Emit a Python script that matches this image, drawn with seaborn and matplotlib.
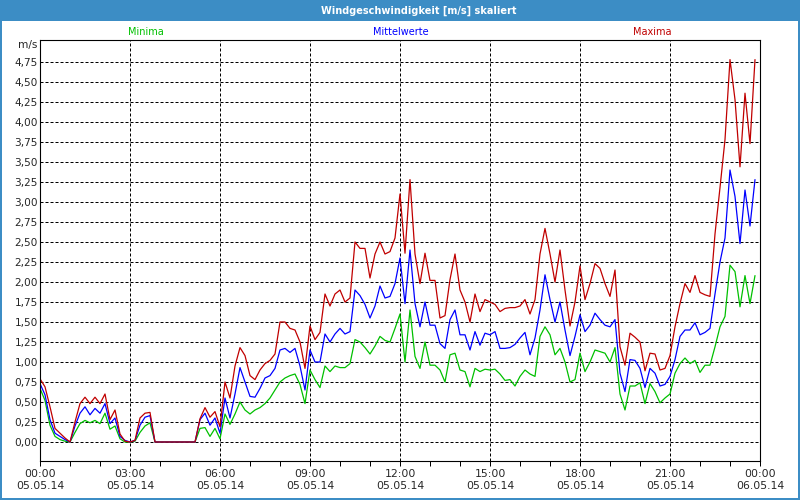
import matplotlib
matplotlib.use("Agg")
import matplotlib.pyplot as plt
import matplotlib.dates as mdates
from matplotlib.patches import Rectangle
from matplotlib.ticker import FixedLocator, FuncFormatter
import pandas as pd
import seaborn as sns

# 10-Minuten-Werte 05.05.14 00:00 .. 23:50, in m/s
minima = [0.67, 0.52, 0.21, 0.07, 0.03, 0.01, 0.00, 0.12, 0.23, 0.27, 0.24, 0.27,
          0.23, 0.36, 0.16, 0.20, 0.04, 0.00, 0.00, 0.01, 0.12, 0.20, 0.24, 0.00,
          0.00, 0.00, 0.00, 0.00, 0.00, 0.00, 0.00, 0.00, 0.17, 0.18, 0.07, 0.17,
          0.04, 0.35, 0.22, 0.35, 0.50, 0.40, 0.35, 0.40, 0.43, 0.48, 0.55, 0.65,
          0.75, 0.80, 0.83, 0.85, 0.72, 0.48, 0.90, 0.78, 0.68, 0.95, 0.88, 0.95,
          0.93, 0.93, 0.98, 1.28, 1.25, 1.18, 1.10, 1.20, 1.32, 1.27, 1.25, 1.42,
          1.60, 1.00, 1.65, 1.07, 0.92, 1.25, 0.96, 0.96, 0.90, 0.75, 1.09, 1.11,
          0.90, 0.88, 0.69, 0.92, 0.88, 0.91, 0.90, 0.91, 0.85, 0.77, 0.78, 0.70,
          0.82, 0.90, 0.85, 0.82, 1.32, 1.44, 1.34, 1.09, 1.17, 1.00, 0.75, 0.78,
          1.11, 0.88, 1.00, 1.15, 1.13, 1.11, 1.00, 1.18, 0.60, 0.40, 0.70, 0.70,
          0.74, 0.48, 0.73, 0.63, 0.49, 0.55, 0.60, 0.86, 0.98, 1.05, 0.98, 1.02,
          0.87, 0.96, 0.96, 1.19, 1.44, 1.57, 2.21, 2.13, 1.69, 2.08, 1.73, 2.08]

mittelwerte = [0.73, 0.59, 0.28, 0.11, 0.07, 0.03, 0.00, 0.20, 0.36, 0.44, 0.34, 0.42,
               0.36, 0.48, 0.23, 0.30, 0.07, 0.02, 0.00, 0.02, 0.21, 0.31, 0.33, 0.00,
               0.00, 0.00, 0.00, 0.00, 0.00, 0.00, 0.00, 0.00, 0.28, 0.36, 0.21, 0.30,
               0.11, 0.55, 0.30, 0.60, 0.93, 0.75, 0.57, 0.56, 0.67, 0.80, 0.83, 0.92,
               1.15, 1.17, 1.12, 1.17, 0.95, 0.65, 1.15, 1.00, 1.00, 1.35, 1.25, 1.35,
               1.42, 1.35, 1.38, 1.90, 1.83, 1.72, 1.55, 1.70, 1.95, 1.80, 1.82, 1.98,
               2.30, 1.73, 2.40, 1.73, 1.44, 1.75, 1.46, 1.46, 1.23, 1.17, 1.53, 1.65,
               1.34, 1.34, 1.15, 1.38, 1.21, 1.36, 1.34, 1.38, 1.17, 1.17, 1.18, 1.22,
               1.30, 1.37, 1.09, 1.30, 1.65, 2.09, 1.78, 1.50, 1.75, 1.40, 1.08, 1.32,
               1.59, 1.38, 1.46, 1.61, 1.53, 1.46, 1.44, 1.53, 0.86, 0.63, 1.03, 1.02,
               0.92, 0.68, 0.92, 0.86, 0.70, 0.72, 0.82, 1.03, 1.32, 1.40, 1.40, 1.49,
               1.34, 1.37, 1.42, 1.85, 2.25, 2.55, 3.40, 3.07, 2.48, 3.15, 2.70, 3.28]

maxima = [0.79, 0.69, 0.44, 0.17, 0.11, 0.05, 0.00, 0.25, 0.48, 0.56, 0.48, 0.56,
          0.48, 0.60, 0.28, 0.40, 0.10, 0.01, 0.00, 0.02, 0.30, 0.36, 0.37, 0.00,
          0.00, 0.00, 0.00, 0.00, 0.00, 0.00, 0.00, 0.00, 0.29, 0.43, 0.31, 0.38,
          0.19, 0.75, 0.55, 0.95, 1.18, 1.08, 0.83, 0.78, 0.90, 0.98, 1.02, 1.10,
          1.50, 1.50, 1.42, 1.40, 1.25, 0.92, 1.45, 1.28, 1.37, 1.85, 1.70, 1.85,
          1.90, 1.75, 1.80, 2.50, 2.42, 2.42, 2.05, 2.35, 2.50, 2.35, 2.38, 2.55,
          3.10, 2.36, 3.28, 2.35, 1.98, 2.36, 2.02, 2.02, 1.55, 1.58, 2.03, 2.35,
          1.90, 1.75, 1.50, 1.85, 1.63, 1.78, 1.75, 1.72, 1.63, 1.67, 1.68, 1.68,
          1.70, 1.78, 1.60, 1.78, 2.35, 2.67, 2.35, 2.00, 2.40, 1.90, 1.45, 1.75,
          2.20, 1.78, 1.98, 2.23, 2.17, 1.98, 1.82, 2.15, 1.19, 0.96, 1.36, 1.31,
          1.25, 0.89, 1.11, 1.10, 0.90, 0.92, 1.08, 1.44, 1.73, 1.98, 1.87, 2.08,
          1.87, 1.84, 1.82, 2.60, 3.18, 3.78, 4.78, 4.28, 3.44, 4.36, 3.73, 4.78]

serien = ["Minima", "Mittelwerte", "Maxima"]
farben = {"Minima": "#00c000", "Mittelwerte": "#0000ff", "Maxima": "#c00000"}
y_ticks = [0.0, 0.25, 0.5, 0.75, 1.0, 1.25, 1.5, 1.75, 2.0, 2.25,
           2.5, 2.75, 3.0, 3.25, 3.5, 3.75, 4.0, 4.25, 4.5, 4.75]

zeit = pd.date_range("2014-05-05 00:00", periods=len(maxima), freq="10min")
df = pd.DataFrame({"zeit": zeit, "Minima": minima,
                   "Mittelwerte": mittelwerte, "Maxima": maxima})
df = df.melt(id_vars="zeit", var_name="serie", value_name="wert")

sns.set_style("white")
plt.rcParams["font.family"] = ["DejaVu Sans"]

W, H = 800, 500
rahmen = "#3c8dc5"
fig = plt.figure(figsize=(8, 5), dpi=100, facecolor=rahmen)
fig.add_artist(Rectangle((2 / W, 2 / H), 796 / W, 477 / H, transform=fig.transFigure,
                         facecolor="white", edgecolor="none", zorder=0))
fig.text(419 / W, 1 - 10.5 / H, "Windgeschwindigkeit [m/s] skaliert", color="white",
         fontsize=7, fontweight="bold", ha="center", va="center")

ax = fig.add_axes([40 / W, 39 / H, 720 / W, 421 / H])
ax.set_facecolor("white")
sns.lineplot(data=df, x="zeit", y="wert", hue="serie", hue_order=serien,
             palette=farben, linewidth=0.9, legend=False, ax=ax)

ax.set_xlim(pd.Timestamp("2014-05-05 00:00"), pd.Timestamp("2014-05-06 00:00"))
ax.set_ylim(-0.2375, 5.025)
ax.set_xlabel("")
ax.set_ylabel("")

ax.xaxis.set_major_locator(mdates.HourLocator(byhour=range(0, 24, 3)))
ax.xaxis.set_minor_locator(mdates.HourLocator())
ax.xaxis.set_major_formatter(mdates.DateFormatter("%H:%M\n%d.%m.%y"))
ax.yaxis.set_major_locator(FixedLocator(y_ticks))
ax.yaxis.set_major_formatter(FuncFormatter(lambda v, p: f"{v:.2f}".replace(".", ",")))

ax.tick_params(axis="x", which="both", direction="out", length=3.6, width=0.72,
               color="black", labelsize=7.8, pad=2.5, bottom=True)
ax.tick_params(axis="y", length=0, labelsize=7.6, pad=1.5)
for lab in ax.get_xticklabels():
    lab.set_horizontalalignment("center")

ax.set_axisbelow(True)
ax.grid(True, which="major", color="black", linestyle=(0, (3, 2)), linewidth=0.72)
for sp in ax.spines.values():
    sp.set_visible(True)
    sp.set_color("black")
    sp.set_linewidth(0.8)

ax.text(-0.003, 4.96, "m/s", transform=ax.get_yaxis_transform(), ha="right",
        va="center", fontsize=7.6)

for name, xpos in zip(serien, [146, 401, 652]):
    fig.text(xpos / W, 1 - 32.3 / H, name, color=farben[name], fontsize=7,
             ha="center", va="center")

fig.savefig("out.png", dpi=100, facecolor=rahmen)
